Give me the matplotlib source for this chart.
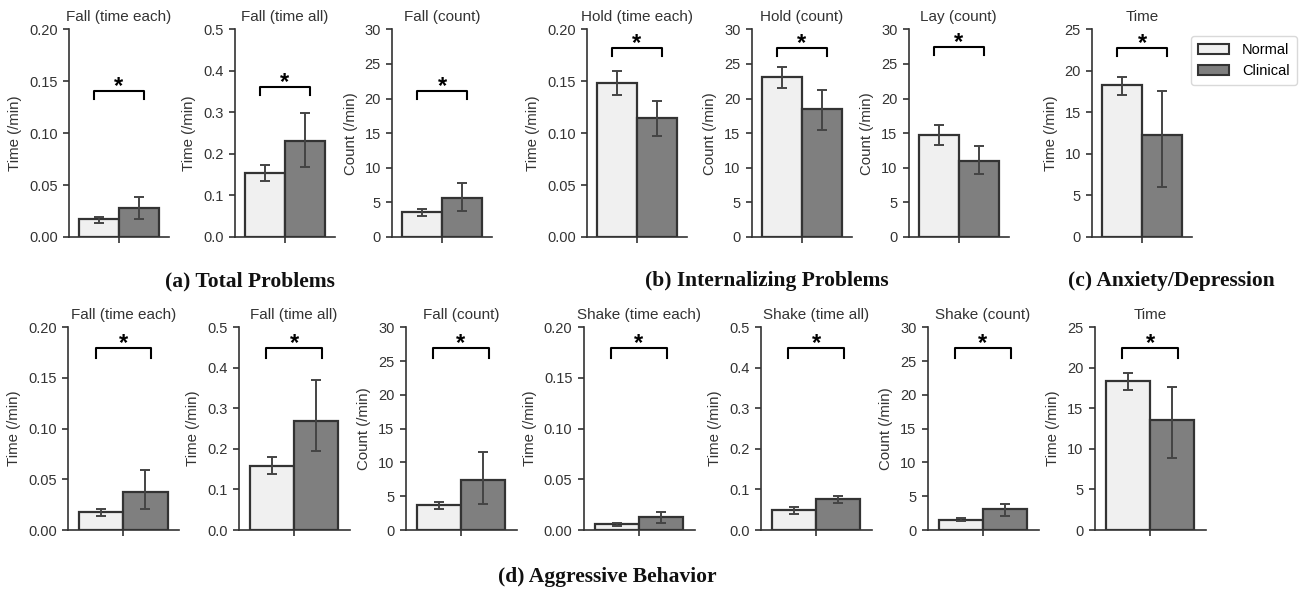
import matplotlib
matplotlib.use("Agg")
from matplotlib import pyplot as plt
from matplotlib.patches import Patch
from matplotlib.ticker import MultipleLocator, FormatStrFormatter

plt.rcParams['font.family'] = ['Liberation Sans', 'DejaVu Sans']

# ---- data (bar = mean, lo/hi = error bar ends) ----
top_titles = ["Fall (time each)", "Fall (time all)", "Fall (count)",
              "Hold (time each)", "Hold (count)", "Lay (count)", "Time"]
top_ylabels = ["Time (/min)", "Time (/min)", "Count (/min)",
               "Time (/min)", "Count (/min)", "Count (/min)", "Time (/min)"]
top_ymax = [0.20, 0.5, 30, 0.20, 30, 30, 25]
top_step = [0.05, 0.1, 5, 0.05, 5, 5, 5]
top_normal = [0.0173, 0.155, 3.66, 0.148, 23.1, 14.8, 18.3]
top_normal_lo = [0.0138, 0.134, 3.03, 0.137, 21.5, 13.3, 17.15]
top_normal_hi = [0.0196, 0.174, 4.04, 0.160, 24.5, 16.2, 19.3]
top_clinical = [0.0283, 0.230, 5.68, 0.1146, 18.5, 11.0, 12.3]
top_clinical_lo = [0.0177, 0.168, 3.76, 0.0973, 15.5, 9.05, 5.96]
top_clinical_hi = [0.0385, 0.298, 7.80, 0.1307, 21.2, 13.15, 17.6]
top_bracket = [0.141, 0.362, 21.1, 0.182, 27.35, 27.5, 22.8]

bot_titles = ["Fall (time each)", "Fall (time all)", "Fall (count)",
              "Shake (time each)", "Shake (time all)", "Shake (count)", "Time"]
bot_ylabels = ["Time (/min)", "Time (/min)", "Count (/min)",
               "Time (/min)", "Time (/min)", "Count (/min)", "Time (/min)"]
bot_ymax = [0.20, 0.5, 30, 0.20, 0.5, 30, 25]
bot_step = [0.05, 0.1, 5, 0.05, 0.1, 5, 5]
bot_normal = [0.0175, 0.159, 3.66, 0.0059, 0.0494, 1.53, 18.37]
bot_normal_lo = [0.0138, 0.139, 3.11, 0.0043, 0.0387, 1.28, 17.26]
bot_normal_hi = [0.0204, 0.179, 4.15, 0.0072, 0.0577, 1.78, 19.32]
bot_clinical = [0.0379, 0.269, 7.41, 0.0128, 0.0766, 3.11, 13.59]
bot_clinical_lo = [0.0208, 0.195, 3.90, 0.0072, 0.0659, 2.12, 8.90]
bot_clinical_hi = [0.0593, 0.369, 11.57, 0.0175, 0.0848, 3.90, 17.59]
bot_bracket = [0.180, 0.45, 27.0, 0.180, 0.45, 27.0, 22.5]

groups = ["Normal", "Clinical"]
captions = ["(a) Total Problems", "(b) Internalizing Problems",
            "(c) Anxiety/Depression", "(d) Aggressive Behavior"]

# ---- layout (pixels of a 1300x592 canvas) ----
W, H = 1300, 592
top_centers = [119, 285, 442, 637, 801.5, 958.5, 1142]
bot_centers = [123.3, 294, 461, 639, 816, 983, 1150]
face = ["#f0f0f0", "#7f7f7f"]
edge = "#333333"
ink = "#333333"

fig = plt.figure(figsize=(13, 5.92), dpi=100)


def fmt_for(step):
    if step < 0.1:
        return "%.2f"
    if step < 1:
        return "%.1f"
    return "%d"


def draw_panel(cx, ax_w, y0, y1, title, ylabel, ymax, step,
               vals, los, his, bracket, tip):
    ax = fig.add_axes([(cx - ax_w / 2) / W, 1 - y1 / H, ax_w / W, (y1 - y0) / H])
    xs = [-0.2, 0.2]
    for x, v, lo, hi, fc in zip(xs, vals, los, his, face):
        ax.bar(x, v, width=0.4, color=fc, edgecolor=edge, linewidth=1.6, zorder=2)
        ax.errorbar(x, v, yerr=[[v - lo], [hi - v]], fmt="none",
                    ecolor="#444444", elinewidth=1.4, capsize=3.8, capthick=1.4, zorder=3)
    # significance bracket
    d = tip * ymax
    ax.plot([-0.25, -0.25, 0.25, 0.25], [bracket - d, bracket, bracket, bracket - d],
            color="black", lw=1.5, zorder=4, clip_on=False)
    ax.annotate("*", xy=(0, bracket), xytext=(0, -1.8), textcoords="offset points",
                ha="center", va="baseline", fontsize=17, fontweight="bold", color="black")
    ax.set_xlim(-0.5, 0.5)
    ax.set_ylim(0, ymax)
    ax.yaxis.set_major_locator(MultipleLocator(step))
    ax.yaxis.set_major_formatter(FormatStrFormatter(fmt_for(step)))
    ax.set_xticks([0])
    ax.set_xticklabels([""])
    for s in ["top", "right"]:
        ax.spines[s].set_visible(False)
    for s in ["left", "bottom"]:
        ax.spines[s].set_color(ink)
        ax.spines[s].set_linewidth(1.2)
    ax.tick_params(colors=ink, labelsize=10.5, length=4.5, width=1.2)
    ax.set_title(title, fontsize=11, color=ink, pad=6)
    ax.set_ylabel(ylabel, fontsize=10.8, color=ink, labelpad=5)
    return ax


for i in range(7):
    draw_panel(top_centers[i], 100, 29.3, 237, top_titles[i], top_ylabels[i],
               top_ymax[i], top_step[i],
               [top_normal[i], top_clinical[i]],
               [top_normal_lo[i], top_clinical_lo[i]],
               [top_normal_hi[i], top_clinical_hi[i]],
               top_bracket[i], 0.04)
    draw_panel(bot_centers[i], 111, 327.3, 530, bot_titles[i], bot_ylabels[i],
               bot_ymax[i], bot_step[i],
               [bot_normal[i], bot_clinical[i]],
               [bot_normal_lo[i], bot_clinical_lo[i]],
               [bot_normal_hi[i], bot_clinical_hi[i]],
               bot_bracket[i], 0.05)

# captions
cap_pos = [(250, 281), (767, 281), (1171, 281), (607, 577)]
for text, (px, py) in zip(captions, cap_pos):
    fig.text(px / W, 1 - py / H, text, ha="center", va="center",
             family="Liberation Serif", fontweight="bold", fontsize=15.5, color="#111111")

handles = [Patch(facecolor=face[k], edgecolor=edge, linewidth=1.5, label=groups[k])
           for k in range(2)]
fig.legend(handles=handles, loc="upper right", bbox_to_anchor=(1297 / W, 1 - 36 / H),
           fontsize=10.5, frameon=True, edgecolor="#d0d0d0", fancybox=True,
           handlelength=2.1, handleheight=0.65, borderpad=0.5, labelspacing=0.45,
           handletextpad=0.9, borderaxespad=0)

fig.savefig("out.png", dpi=100)
